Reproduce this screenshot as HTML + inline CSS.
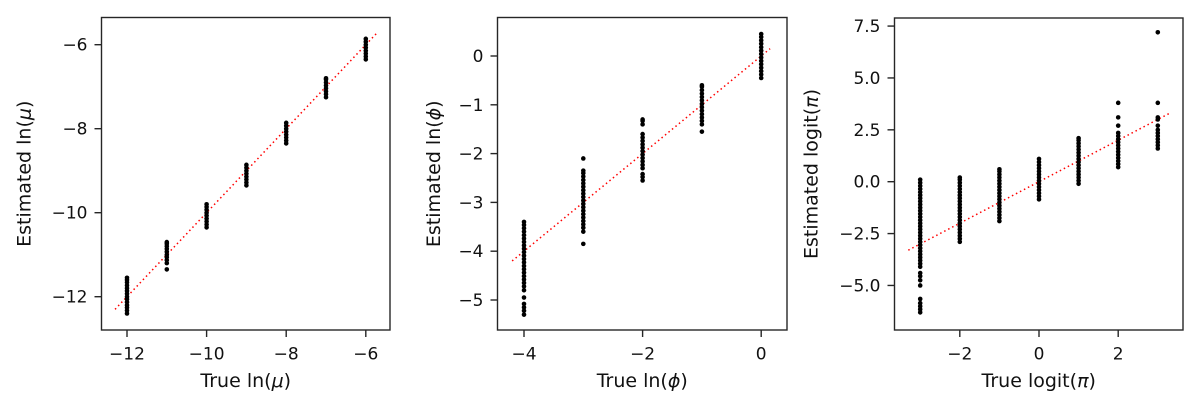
<!DOCTYPE html>
<html><head><meta charset="utf-8"><style>
body{margin:0;background:#fff;}
svg{display:block;font-family:"DejaVu Sans","Liberation Sans",sans-serif;}
</style></head><body>
<svg id="chart" width="1201" height="408" viewBox="0 0 1201 408"></svg>
<script>
// Panel 1: ln(mu)
const p1Categories = [-12,-11,-10,-9,-8,-7,-6];
const p1Values = [
 [-12.4,-12.33,-12.26,-12.2,-12.13,-12.06,-12.0,-11.93,-11.86,-11.8,-11.73,-11.66,-11.6,-11.55],
 [-11.35,-11.2,-11.13,-11.06,-11.0,-10.93,-10.86,-10.8,-10.74,-10.7],
 [-10.35,-10.28,-10.21,-10.14,-10.07,-10.0,-9.93,-9.86,-9.8],
 [-9.35,-9.28,-9.21,-9.14,-9.07,-9.0,-8.93,-8.86],
 [-8.35,-8.28,-8.21,-8.14,-8.07,-8.0,-7.93,-7.86],
 [-7.25,-7.18,-7.11,-7.04,-6.97,-6.9,-6.83,-6.8],
 [-6.35,-6.28,-6.21,-6.14,-6.07,-6.0,-5.93,-5.86]
];
const p1XTicks = [-12,-10,-8,-6];
const p1YTicks = [-12,-10,-8,-6];
const p1Line = [-12.3,-5.7];
// Panel 2: ln(phi)
const p2Categories = [-4,-3,-2,-1,0];
const p2Values = [
 [-5.3,-5.22,-5.15,-5.08,-4.95,-4.8,-4.72,-4.65,-4.58,-4.51,-4.44,-4.37,-4.3,-4.23,-4.16,-4.09,-4.02,-3.95,-3.88,-3.81,-3.74,-3.67,-3.6,-3.53,-3.46,-3.4],
 [-3.85,-3.6,-3.52,-3.45,-3.38,-3.31,-3.24,-3.17,-3.1,-3.03,-2.96,-2.89,-2.82,-2.75,-2.68,-2.61,-2.54,-2.47,-2.4,-2.35,-2.1],
 [-2.55,-2.48,-2.42,-2.3,-2.23,-2.16,-2.09,-2.02,-1.95,-1.88,-1.81,-1.74,-1.67,-1.6,-1.4,-1.33,-1.3],
 [-1.55,-1.4,-1.33,-1.26,-1.19,-1.12,-1.05,-0.98,-0.91,-0.84,-0.77,-0.7,-0.63,-0.6],
 [-0.45,-0.38,-0.31,-0.24,-0.17,-0.1,-0.03,0.04,0.11,0.18,0.25,0.32,0.39,0.45]
];
const p2XTicks = [-4,-2,0];
const p2YTicks = [-5,-4,-3,-2,-1,0];
const p2Line = [-4.2,0.15];
// Panel 3: logit(pi)
const p3Categories = [-3,-2,-1,0,1,2,3];
const p3Values = [
 [-6.3,-6.15,-6.0,-5.85,-5.65,-5.0,-4.75,-4.55,-4.4,-4.1,-3.95,-3.8,-3.65,-3.5,-3.35,-3.2,-3.05,-2.9,-2.75,-2.6,-2.45,-2.3,-2.15,-2.0,-1.85,-1.7,-1.55,-1.4,-1.25,-1.1,-0.95,-0.8,-0.65,-0.5,-0.35,-0.2,-0.05,0.1],
 [-2.9,-2.75,-2.6,-2.45,-2.3,-2.15,-2.0,-1.85,-1.7,-1.55,-1.4,-1.25,-1.1,-0.95,-0.8,-0.65,-0.5,-0.35,-0.2,-0.05,0.1,0.2],
 [-1.9,-1.75,-1.6,-1.45,-1.3,-1.15,-1.0,-0.85,-0.7,-0.55,-0.4,-0.25,-0.1,0.05,0.2,0.35,0.5,0.6],
 [-0.85,-0.7,-0.55,-0.4,-0.25,-0.1,0.05,0.2,0.35,0.5,0.65,0.8,0.95,1.1],
 [-0.1,0.05,0.2,0.35,0.5,0.65,0.8,0.95,1.1,1.25,1.4,1.55,1.7,1.85,2.0,2.1],
 [0.7,0.85,1.0,1.15,1.3,1.45,1.6,1.75,1.9,2.05,2.2,2.35,2.7,3.1,3.8],
 [1.6,1.75,1.9,2.05,2.2,2.35,2.5,2.7,3.0,3.1,3.8,7.2]
];
const p3XTicks = [-2,0,2];
const p3YTicks = [-5.0,-2.5,0.0,2.5,5.0,7.5];
const p3YTickLabels = ["\u22125.0","\u22122.5","0.0","2.5","5.0","7.5"];
const p3Line = [-3.3,3.3];

const NS="http://www.w3.org/2000/svg";
const svg=document.getElementById('chart');
function mk(tag,attrs,parent){const e=document.createElementNS(NS,tag);for(const k in attrs)e.setAttribute(k,attrs[k]);(parent||svg).appendChild(e);return e;}
function lab(v){return (v<0?"\u2212":"")+Math.abs(v);}

function panel(o){
  const g=mk('g',{});
  
  
  const sx=v=>o.x0+(v-o.xa)*o.xs;
  const sy=v=>o.y0-(v-o.ya)*o.ys;
  const ln=mk('line',{x1:sx(o.line[0]),y1:sy(o.line[0]),x2:sx(o.line[1]),y2:sy(o.line[1]),stroke:'#ff0000','stroke-width':1.5,'stroke-dasharray':'1.5,3'},g);
  
  
  o.cats.forEach((c,i)=>{
    o.vals[i].forEach(v=>{
      const p=mk('circle',{cx:sx(c),cy:sy(v),r:2.3,fill:'#000'},g);
      
      
    });
  });
  const f=mk('rect',{x:o.L,y:o.T,width:o.R-o.L,height:o.B-o.T,fill:'none',stroke:'#262626','stroke-width':1.4},g);
  
  
  o.xt.forEach(v=>{
    mk('line',{x1:sx(v),x2:sx(v),y1:o.B,y2:o.B+7,stroke:'#262626','stroke-width':1.4},g);
    const t=mk('text',{x:sx(v),y:359.5,'text-anchor':'middle','font-size':17,fill:'#111'},g);
    t.textContent=lab(v);
    
    
  });
  o.yt.forEach((v,i)=>{
    mk('line',{x1:o.L-7,x2:o.L,y1:sy(v),y2:sy(v),stroke:'#262626','stroke-width':1.4},g);
    const t=mk('text',{x:o.L-14,y:sy(v)+6,'text-anchor':'end','font-size':17,fill:'#111'},g);
    t.textContent=o.ytl?o.ytl[i]:lab(v);
    
    
  });
  const xl=mk('text',{x:(o.L+o.R)/2,y:387,'text-anchor':'middle','font-size':19,fill:'#111'},g);
  xl.innerHTML=o.xlabel;
  
  
  const yl=mk('text',{x:0,y:0,'text-anchor':'middle','font-size':19,fill:'#111',transform:`translate(${o.ylx},${(o.T+o.B)/2}) rotate(-90)`},g);
  yl.innerHTML=o.ylabel;
  
  
}
panel({name:'panel-mu',L:101.5,R:390,T:17.5,B:330,x0:127,xa:-12,xs:39.8,y0:296.7,ya:-12,ys:42,
  cats:p1Categories,vals:p1Values,xt:p1XTicks,yt:p1YTicks,line:p1Line,
  xlabel:'True ln(<tspan font-style="italic">μ</tspan>)',ylabel:'Estimated ln(<tspan font-style="italic">μ</tspan>)',ylx:30.5});
panel({name:'panel-phi',L:497.5,R:787,T:17.5,B:330,x0:524,xa:-4,xs:59.3,y0:300,ya:-5,ys:48.8,
  cats:p2Categories,vals:p2Values,xt:p2XTicks,yt:p2YTicks,line:p2Line,
  xlabel:'True ln(<tspan font-style="italic">ϕ</tspan>)',ylabel:'Estimated ln(<tspan font-style="italic">ϕ</tspan>)',ylx:440});
panel({name:'panel-pi',L:894.5,R:1183,T:18,B:330,x0:1039,xa:0,xs:39.6,y0:181.7,ya:0,ys:20.75,
  cats:p3Categories,vals:p3Values,xt:p3XTicks,yt:p3YTicks,ytl:p3YTickLabels,line:p3Line,
  xlabel:'True logit(<tspan font-style="italic">π</tspan>)',ylabel:'Estimated logit(<tspan font-style="italic">π</tspan>)',ylx:817.5});
</script>
</body></html>
